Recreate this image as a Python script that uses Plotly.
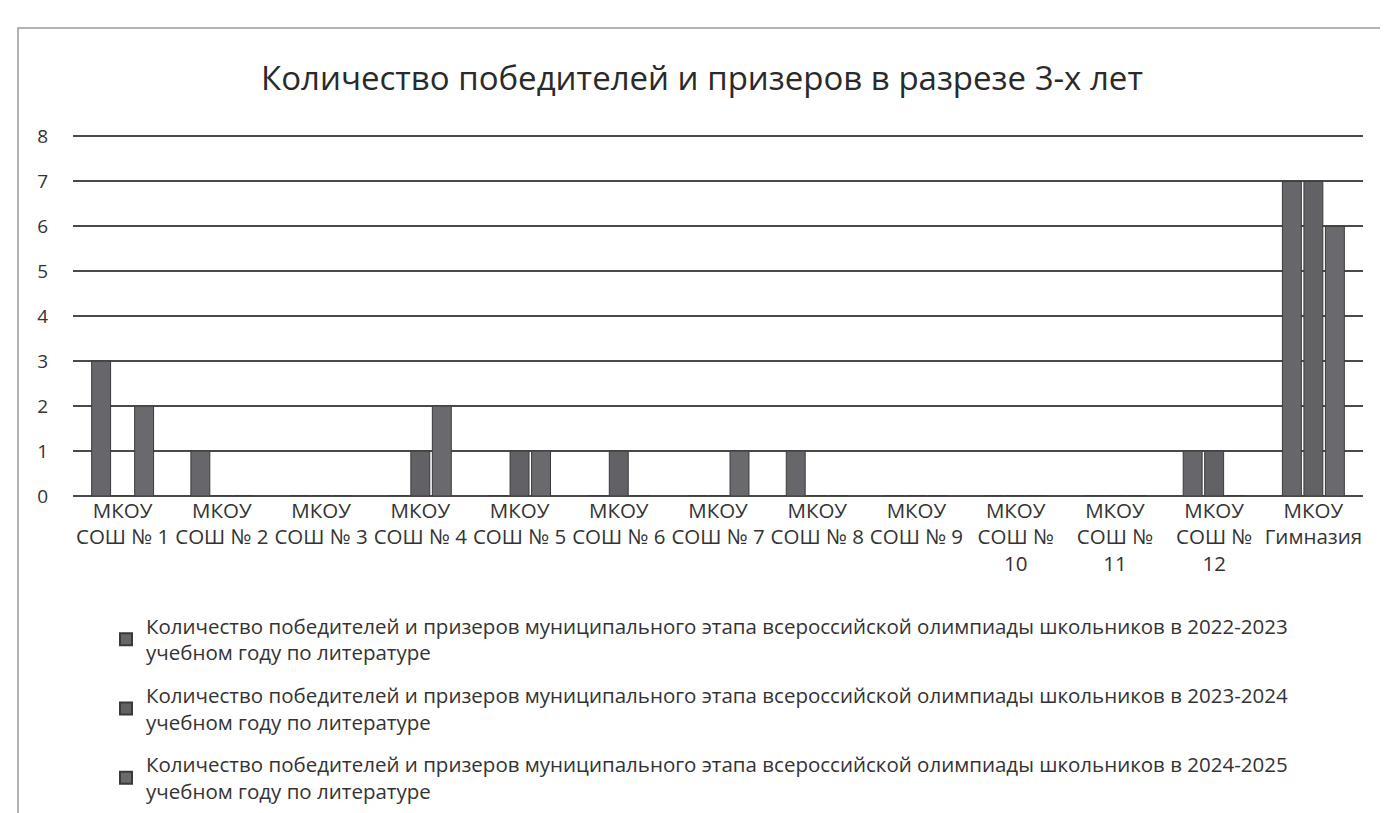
import plotly.graph_objects as go

categories = ["МКОУ<br>СОШ № 1", "МКОУ<br>СОШ № 2", "МКОУ<br>СОШ № 3", "МКОУ<br>СОШ № 4",
              "МКОУ<br>СОШ № 5", "МКОУ<br>СОШ № 6", "МКОУ<br>СОШ № 7", "МКОУ<br>СОШ № 8",
              "МКОУ<br>СОШ № 9", "МКОУ<br>СОШ №<br>10", "МКОУ<br>СОШ №<br>11", "МКОУ<br>СОШ №<br>12",
              "МКОУ<br>Гимназия"]

series_names = [
    "Количество победителей и призеров муниципального этапа всероссийской олимпиады школьников в 2022-2023<br>учебном году по литературе",
    "Количество победителей и призеров муниципального этапа всероссийской олимпиады школьников в 2023-2024<br>учебном году по литературе",
    "Количество победителей и призеров муниципального этапа всероссийской олимпиады школьников в 2024-2025<br>учебном году по литературе",
]
values_2022_2023 = [3, 1, 0, 0, 0, 0, 0, 1, 0, 0, 0, 1, 7]
values_2023_2024 = [0, 0, 0, 1, 1, 1, 0, 0, 0, 0, 0, 1, 7]
values_2024_2025 = [2, 0, 0, 2, 1, 0, 1, 0, 0, 0, 0, 0, 6]
series_values = [values_2022_2023, values_2023_2024, values_2024_2025]
colors = ["#66666b", "#626266", "#6a6a6e"]

FONT = "Open Sans"
W, H = 1388, 813
Y0_PX, Y8_PX = 488, 128
YMAX = 8.12
unit = (Y0_PX - Y8_PX) / 8
L, R = 65, 33
B = H - Y0_PX
T = int(round(Y0_PX - YMAX * unit))
pw = W - L - R
ph = H - T - B

fig = go.Figure()
for i, (name, vals, c) in enumerate(zip(series_names, series_values, colors)):
    fig.add_trace(go.Bar(x=categories, y=vals, name=name, legendgroup=f"g{i}",
                         marker=dict(color=c, line=dict(color="#3a3a3a", width=1))))

def px_x(px):
    return (px - L) / pw

def px_y(py):
    return (H - B - py) / ph

fig.update_layout(
    width=W, height=H,
    margin=dict(l=L, r=R, t=T, b=B, autoexpand=False),
    paper_bgcolor="white", plot_bgcolor="white",
    font=dict(family=FONT, size=20, color="#333333"),
    title=dict(text="Количество победителей и призеров в разрезе 3-х лет",
               x=0.5, xanchor="center", y=1 - 70 / H, yanchor="middle",
               font=dict(family=FONT, size=33, color="#2a2a2a")),
    barmode="group", bargap=0.35, bargroupgap=0.12,
    showlegend=True,
    legend=dict(orientation="v", x=px_x(98), xanchor="left", y=px_y(598), yanchor="top",
                font=dict(family=FONT, size=20.5, color="#333333"),
                traceorder="grouped", itemsizing="constant", tracegroupgap=13,
                bgcolor="rgba(0,0,0,0)"),
    xaxis=dict(showgrid=False, showline=False, ticks="", automargin=False,
               tickfont=dict(family=FONT, size=20.5, color="#333333")),
    yaxis=dict(range=[0, YMAX], tickvals=[0, 1, 2, 3, 4, 5, 6, 7, 8], showgrid=True,
               gridcolor="#4a4a4a", gridwidth=1.5,
               zeroline=True, zerolinecolor="#4a4a4a", zerolinewidth=1.5,
               showline=False, ticks="", automargin=False, ticklabelstandoff=24,
               tickfont=dict(family=FONT, size=19, color="#333333")),
    shapes=[dict(type="rect", xref="paper", yref="paper",
                 x0=px_x(10), x1=px_x(1380), y0=px_y(808), y1=px_y(20),
                 line=dict(color="#9a9a9a", width=1.5), fillcolor="rgba(0,0,0,0)", layer="below")],
)

fig.write_html("out.html")
